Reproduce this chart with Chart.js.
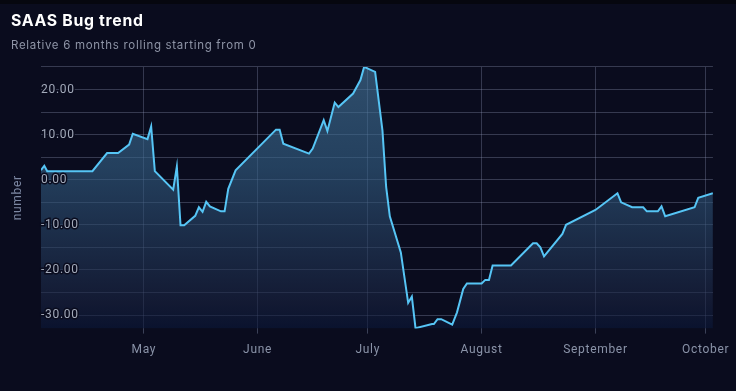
<!DOCTYPE html>
<html>
<head>
<meta charset="utf-8">
<script src="https://cdn.jsdelivr.net/npm/chart.js@4"></script>
<style>
html,body{margin:0;padding:0;background:#0a0c1e;overflow:hidden;}
canvas{display:block;}
</style>
</head>
<body>
<canvas id="c" width="736" height="391"></canvas>
<script>
// Days counted from April 3 (day 0)
const days = [0, 0.9, 1.7, 14, 18, 21, 24, 25, 29, 30, 31, 36, 37, 38, 39, 42, 43, 44, 45, 46, 49, 50, 51, 53,
  64, 65, 66, 73, 74, 77, 78, 80, 81, 85, 87, 88, 91, 93, 94, 95, 98, 100, 101, 102, 106.5, 107, 108, 109, 112,
  113.3, 115, 116, 120, 121, 122, 123, 128, 134, 135, 136, 137, 142, 143, 151, 157, 158, 161, 164, 165, 168,
  169, 170, 178, 179, 183];
const values = [2.1, 3.1, 1.9, 1.9, 5.9, 5.9, 7.8, 10.2, 9.0, 11.8, 1.9, -2.2, 2.9, -10.1, -10.1, -8.0, -6.1, -7.1, -4.9, -5.9, -7.0, -7.0, -2.0, 2.1,
  11.1, 11.1, 8.0, 5.8, 6.9, 13.2, 10.8, 17.1, 16.1, 19.1, 22.1, 25.0, 23.9, 10.9, -1.6, -8.1, -16.1, -27.3, -25.9, -32.9, -32.0, -32.0, -30.9, -30.9, -32.1,
  -29.4, -24.2, -23.0, -23.0, -22.2, -22.2, -19.0, -19.0, -14.1, -14.1, -15.0, -17.0, -12.0, -10.0, -6.7, -3.0, -5.0, -6.1, -6.1, -7.0, -7.0,
  -5.9, -8.1, -6.1, -4.0, -3.0];
const monthDays = [28, 59, 89, 120, 151, 181];
const monthLabels = ['May', 'June', 'July', 'August', 'September', 'October'];
const yGridValues = [-30, -25, -20, -15, -10, -5, 0, 5, 10, 15, 20, 25];
const yLabelValues = [-30, -20, -10, 0, 10, 20];
const yMin = -33, yMax = 25;

const points = days.map((d, i) => ({x: d, y: values[i]}));

const bgPlugin = {
  id: 'bg',
  beforeInit(chart) { chart.ctx.letterSpacing = '0.7px'; },
  beforeDraw(chart) {
    const c = chart.ctx;
    c.letterSpacing = '0.7px';
    c.save();
    c.fillStyle = '#0a0c1e';
    c.fillRect(0, 0, chart.width, chart.height);
    c.fillStyle = '#06070f';
    c.fillRect(0, 0, chart.width, 4);
    c.restore();
  }
};

new Chart(document.getElementById('c'), {
  type: 'line',
  data: {
    datasets: [{
      label: 'number',
      data: points,
      borderColor: '#56c5f5',
      borderWidth: 2,
      pointRadius: 0,
      tension: 0,
      fill: 'start',
      backgroundColor: (ctx) => {
        const ch = ctx.chart;
        const a = ch.chartArea;
        if (!a) return 'rgba(40,70,100,0.5)';
        const g = ch.ctx.createLinearGradient(0, a.top, 0, a.bottom);
        g.addColorStop(0, 'rgba(72,122,160,0.6)');
        g.addColorStop(0.38, 'rgba(53,99,137,0.6)');
        g.addColorStop(0.9, 'rgba(25,35,65,0.6)');
        g.addColorStop(1, 'rgba(10,23,57,0.6)');
        return g;
      }
    }]
  },
  options: {
    responsive: false,
    animation: false,
    layout: {padding: {left: 11, right: 22, top: 0, bottom: 0}},
    plugins: {
      legend: {display: false},
      tooltip: {enabled: false},
      title: {
        display: true,
        text: 'SAAS Bug trend',
        align: 'start',
        color: '#ffffff',
        font: {family: 'Inter', size: 15.8, weight: 'bold', lineHeight: 1.2},
        padding: {top: 11.8, bottom: 0}
      },
      subtitle: {
        display: true,
        text: 'Relative 6 months rolling starting from 0',
        align: 'start',
        color: '#8e94a6',
        font: {family: 'Inter', size: 11.5, lineHeight: 1.2},
        padding: {top: 8, bottom: 14.4}
      }
    },
    scales: {
      x: {
        type: 'linear',
        min: 0,
        max: 183,
        afterBuildTicks: (s) => { s.ticks = monthDays.map(v => ({value: v})); },
        afterFit: (s) => { s.height = 62.4; },
        border: {display: false},
        grid: {
          color: 'rgba(120,130,160,0.38)',
          tickColor: 'rgba(120,130,160,0.45)',
          tickLength: 5,
          lineWidth: 1
        },
        ticks: {
          color: '#8a93a8',
          font: {family: 'Roboto', size: 12},
          padding: 9,
          maxRotation: 0,
          autoSkip: false,
          callback: (v) => monthLabels[monthDays.indexOf(v)] || ''
        }
      },
      y: {
        min: yMin,
        max: yMax,
        afterBuildTicks: (s) => { s.ticks = yGridValues.map(v => ({value: v})); },
        afterFit: (s) => { s.width = 30; },
        border: {display: false},
        title: {
          display: true,
          text: 'number',
          color: '#7d88a3',
          font: {family: 'Roboto', size: 12},
          padding: {top: 0, bottom: 0}
        },
        grid: {
          drawTicks: false,
          color: 'rgba(140,150,180,0.34)'
        },
        ticks: {
          z: 1,
          autoSkip: false,
          mirror: true,
          padding: 0,
          color: '#a3aaba',
          font: {family: 'Roboto', size: 12},
          textStrokeColor: '#0a0c1e',
          textStrokeWidth: 3,
          callback: (v) => yLabelValues.includes(v) ? v.toFixed(2) : ''
        }
      }
    }
  },
  plugins: [bgPlugin]
});
</script>
</body>
</html>
